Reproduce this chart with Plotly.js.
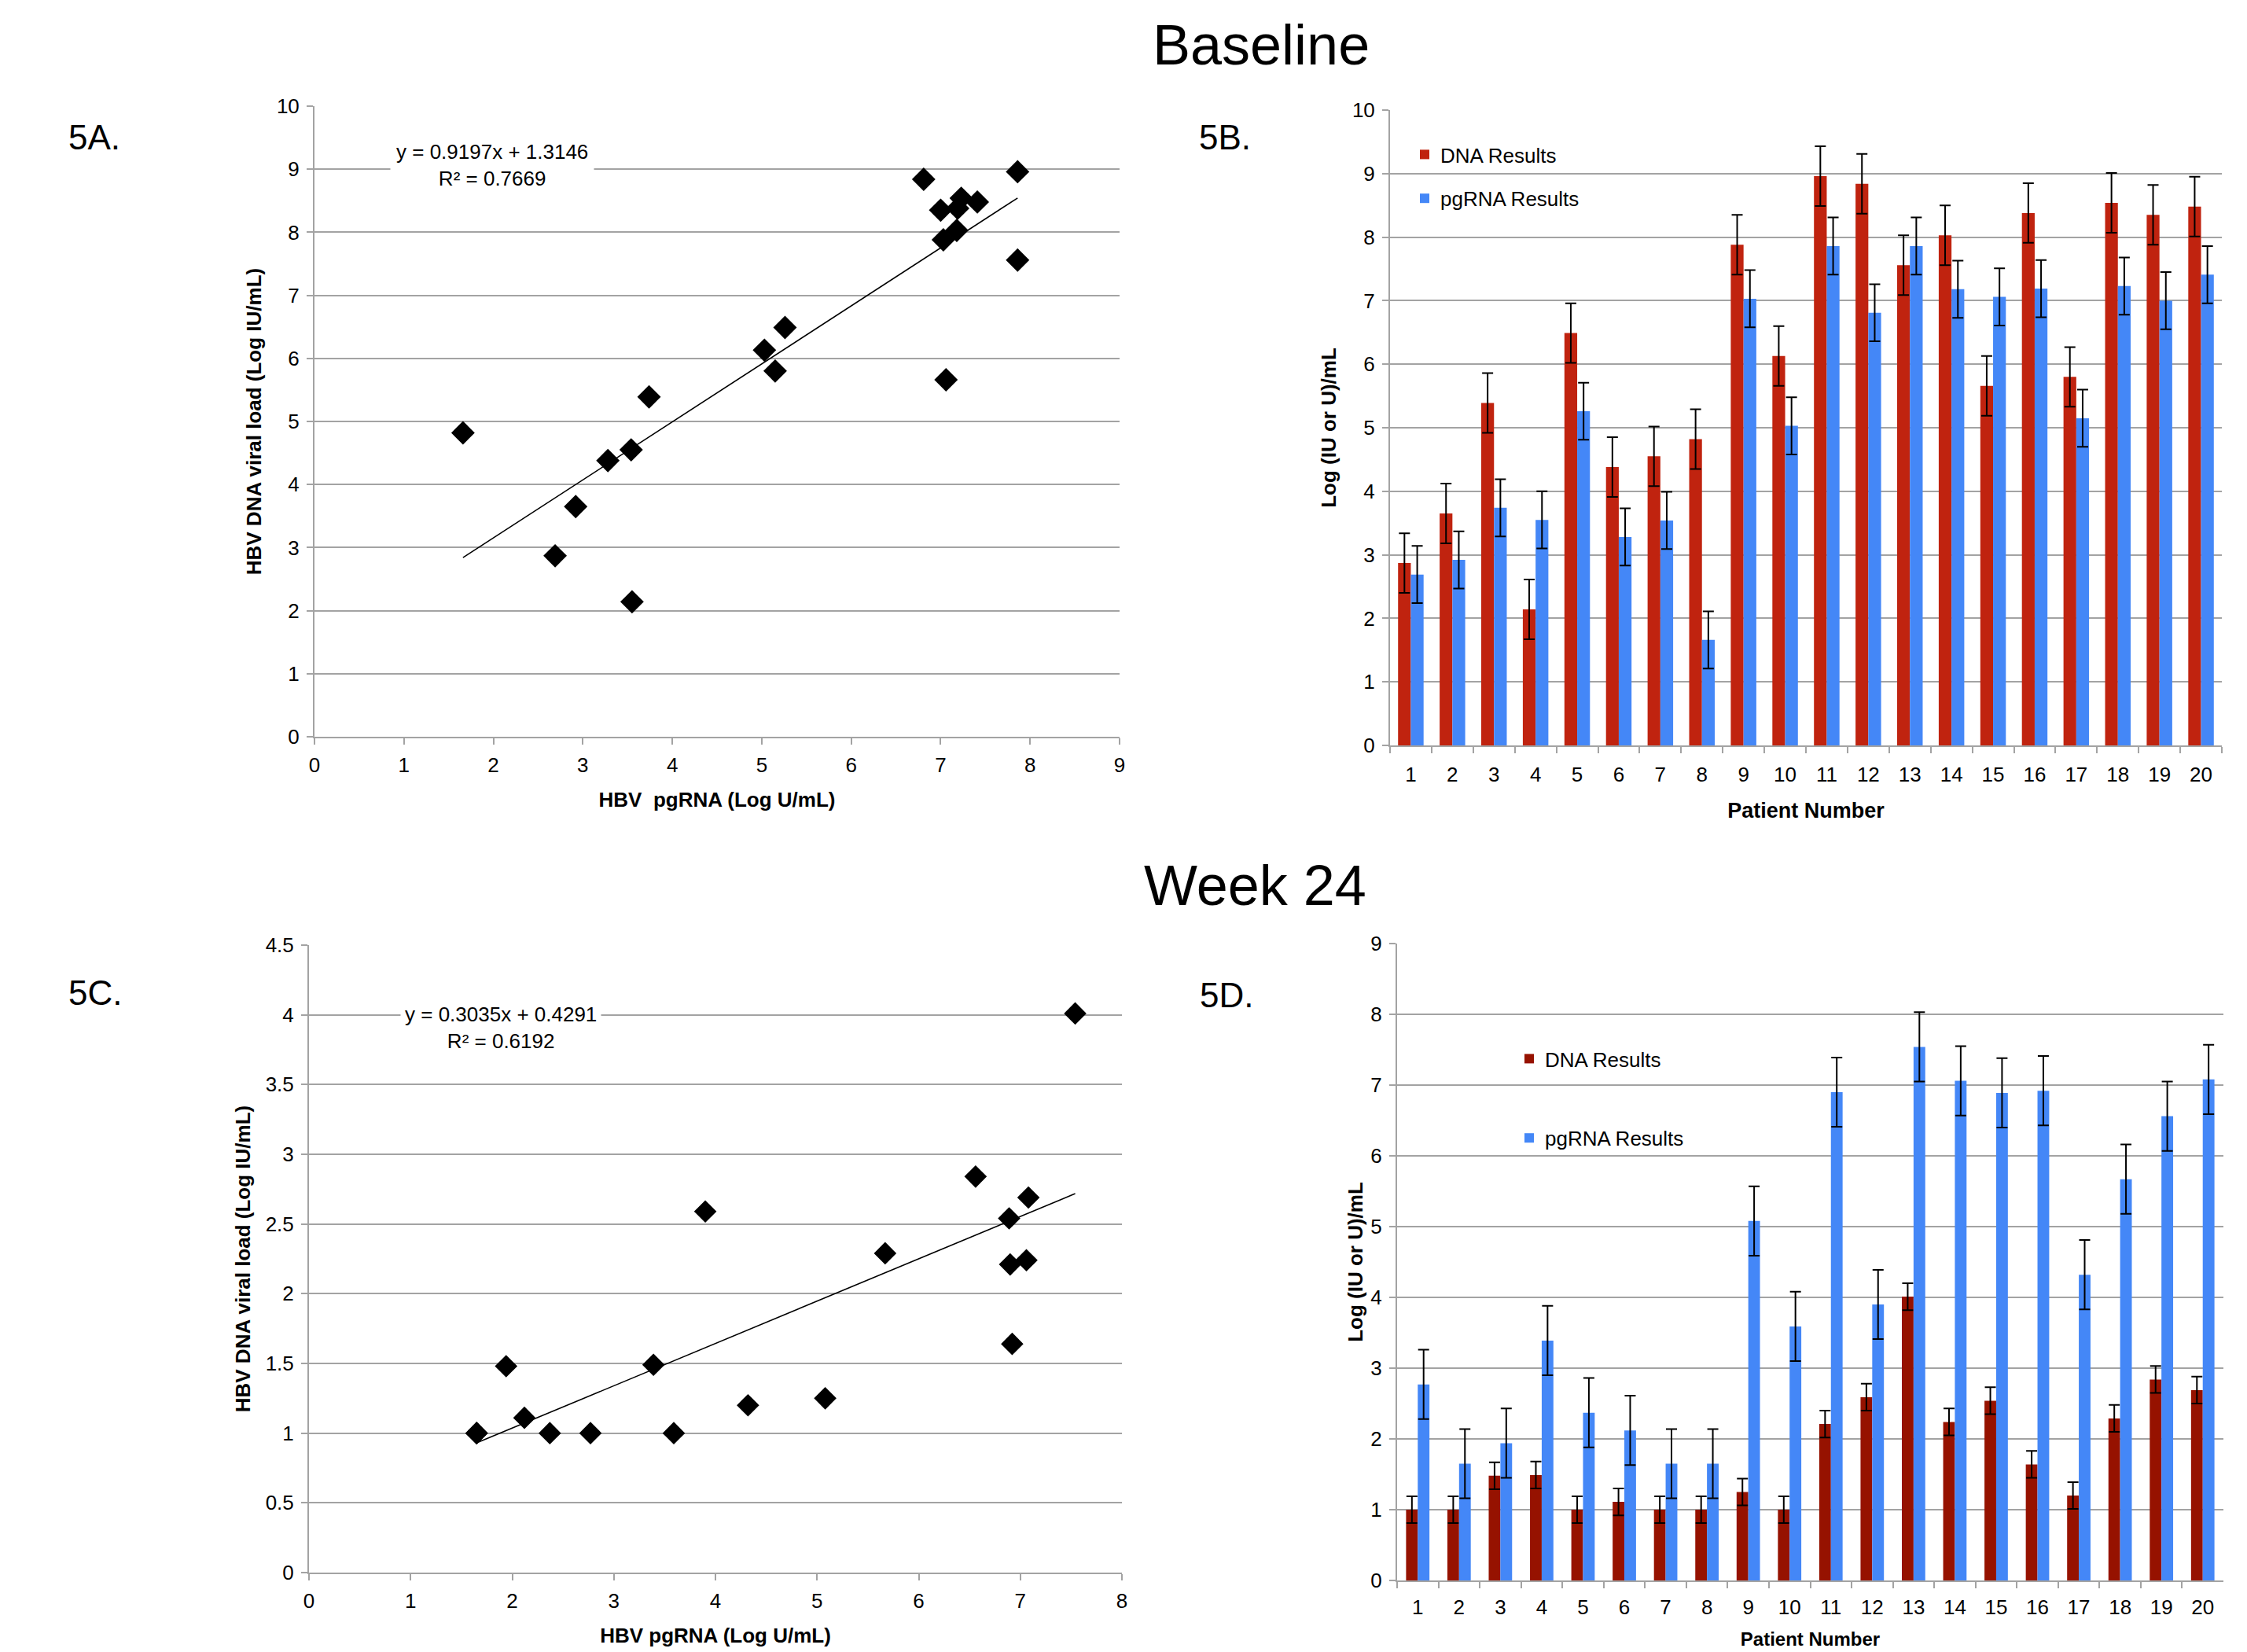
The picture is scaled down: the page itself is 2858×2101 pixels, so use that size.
<!DOCTYPE html>
<html>
<head>
<meta charset="utf-8">
<script src="https://cdn.plot.ly/plotly-3.0.1.min.js"></script>
<style>
html,body{margin:0;padding:0;background:#fff;}
#chart{width:2858px;height:2101px;}
</style>
</head>
<body>
<div id="chart"></div>
<script>
// ---------------- data ----------------
const patients = ["1","2","3","4","5","6","7","8","9","10","11","12","13","14","15","16","17","18","19","20"];

const baselineDNA = [2.87,3.65,5.39,2.14,6.49,4.38,4.55,4.82,7.88,6.13,8.96,8.84,7.56,8.03,5.66,8.38,5.80,8.54,8.35,8.48];
const baselineRNA = [2.69,2.92,3.74,3.55,5.26,3.28,3.54,1.66,7.03,5.03,7.86,6.81,7.86,7.18,7.06,7.19,5.15,7.23,7.00,7.41];
const baselineDNAErr = [0.47,0.47,0.47,0.47,0.47,0.47,0.47,0.47,0.47,0.47,0.47,0.47,0.47,0.47,0.47,0.47,0.47,0.47,0.47,0.47];
const baselineRNAErr = [0.45,0.45,0.45,0.45,0.45,0.45,0.45,0.45,0.45,0.45,0.45,0.45,0.45,0.45,0.45,0.45,0.45,0.45,0.45,0.45];

const week24DNA = [1.00,1.00,1.48,1.49,1.00,1.11,1.00,1.00,1.25,1.00,2.21,2.59,4.01,2.24,2.54,1.64,1.20,2.29,2.84,2.69];
const week24RNA = [2.77,1.65,1.94,3.39,2.37,2.12,1.65,1.65,5.08,3.59,6.90,3.90,7.54,7.06,6.89,6.92,4.32,5.67,6.56,7.08];
const week24DNAErr = [0.19,0.19,0.19,0.19,0.19,0.19,0.19,0.19,0.19,0.19,0.19,0.19,0.19,0.19,0.19,0.19,0.19,0.19,0.19,0.19];
const week24RNAErr = [0.49,0.49,0.49,0.49,0.49,0.49,0.49,0.49,0.49,0.49,0.49,0.49,0.49,0.49,0.49,0.49,0.49,0.49,0.49,0.49];

// trendline coefficients as printed on the chart
const baselineSlope = 0.9197, baselineIntercept = 1.3146, baselineR2 = "0.7669";
const week24Slope = 0.3035, week24Intercept = 0.4291, week24R2 = "0.6192";

const legendNames = ["DNA Results", "pgRNA Results"];

// ---------------- style ----------------
const FONT = "Liberation Sans, Arial, Helvetica, sans-serif";
const GRID = "#A3A3A3";
const RED_B = "#C0230F";
const RED_W = "#961200";
const BLUE = "#4487F7";

function fitLine(xs, m, b) {
  const lo = Math.min.apply(null, xs), hi = Math.max.apply(null, xs);
  return {x: [lo, hi], y: [m * lo + b, m * hi + b]};
}
const fitB = fitLine(baselineRNA, baselineSlope, baselineIntercept);
const fitW = fitLine(week24RNA, week24Slope, week24Intercept);

const errStyle = {type: "data", visible: true, color: "#000", thickness: 2, width: 7};

const traces = [
  // 5A scatter
  {type: "scatter", mode: "markers", x: baselineRNA, y: baselineDNA, xaxis: "x", yaxis: "y",
   marker: {symbol: "diamond", size: 23, color: "#000"}, showlegend: false, hoverinfo: "x+y"},
  {type: "scatter", mode: "lines", x: fitB.x, y: fitB.y, xaxis: "x", yaxis: "y",
   line: {color: "#000", width: 1.6}, showlegend: false, hoverinfo: "skip"},
  // 5B bars
  {type: "bar", name: legendNames[0], x: patients, y: baselineDNA, xaxis: "x2", yaxis: "y2",
   marker: {color: RED_B}, width: 0.307, offset: -0.307,
   error_y: Object.assign({array: baselineDNAErr}, errStyle), legend: "legend", legendgroup: "bd"},
  {type: "bar", name: legendNames[1], x: patients, y: baselineRNA, xaxis: "x2", yaxis: "y2",
   marker: {color: BLUE}, width: 0.307, offset: 0,
   error_y: Object.assign({array: baselineRNAErr}, errStyle), legend: "legend", legendgroup: "br"},
  // 5C scatter
  {type: "scatter", mode: "markers", x: week24RNA, y: week24DNA, xaxis: "x3", yaxis: "y3",
   marker: {symbol: "diamond", size: 22, color: "#000"}, showlegend: false, hoverinfo: "x+y"},
  {type: "scatter", mode: "lines", x: fitW.x, y: fitW.y, xaxis: "x3", yaxis: "y3",
   line: {color: "#000", width: 1.6}, showlegend: false, hoverinfo: "skip"},
  // 5D bars
  {type: "bar", name: legendNames[0], x: patients, y: week24DNA, xaxis: "x4", yaxis: "y4",
   marker: {color: RED_W}, width: 0.283, offset: -0.283,
   error_y: Object.assign({array: week24DNAErr}, errStyle), legend: "legend2", legendgroup: "wd"},
  {type: "bar", name: legendNames[1], x: patients, y: week24RNA, xaxis: "x4", yaxis: "y4",
   marker: {color: BLUE}, width: 0.283, offset: 0,
   error_y: Object.assign({array: week24RNAErr}, errStyle), legend: "legend2", legendgroup: "wr"}
];

function ax(extra) {
  return Object.assign({
    showline: true, linecolor: GRID, linewidth: 2,
    ticks: "outside", ticklen: 8, tickwidth: 2, tickcolor: GRID,
    tickfont: {family: FONT, size: 26, color: "#000"},
    zeroline: false, fixedrange: true, showgrid: false
  }, extra);
}
function ttl(text, size, standoff) {
  const t = {text: text, font: {family: FONT, size: size, color: "#000", weight: 700}};
  if (standoff !== undefined) t.standoff = standoff;
  return t;
}
const yGrid = {showgrid: true, gridcolor: GRID, gridwidth: 2};

const W = 2858, H = 2101;
const px = v => v / W;
const py = v => 1 - v / H;

function ann(text, x, y, size, extra) {
  return Object.assign({text: text, xref: "paper", yref: "paper", x: px(x), y: py(y),
    xanchor: "center", yanchor: "middle", showarrow: false,
    font: {family: FONT, size: size, color: "#000"}}, extra || {});
}

const layout = {
  width: W, height: H,
  margin: {l: 0, r: 0, t: 0, b: 0, pad: 0},
  paper_bgcolor: "#fff", plot_bgcolor: "rgba(0,0,0,0)",
  barmode: "group",
  showlegend: true,
  font: {family: FONT, color: "#000"},

  xaxis: ax({domain: [px(400), px(1424)], anchor: "y", range: [0, 9], dtick: 1, ticklabelstandoff: 4,
             title: ttl("HBV\u00a0 pgRNA (Log U/mL)", 26)}),
  yaxis: ax(Object.assign({domain: [py(937), py(135)], anchor: "x", range: [0, 10], dtick: 1, ticklabelstandoff: 4,
             title: ttl("HBV DNA viral load (Log IU/mL)", 26, 12)}, yGrid)),

  xaxis2: ax({domain: [px(1768), px(2826)], anchor: "y2", type: "category", range: [-0.5, 19.5],
              tickson: "boundaries", ticklabelstandoff: 13, title: ttl("Patient Number", 27)}),
  yaxis2: ax(Object.assign({domain: [py(948), py(140)], anchor: "x2", range: [0, 10], dtick: 1, ticklabelstandoff: 4,
              title: ttl("Log (IU or U)/mL", 26, 13)}, yGrid)),

  xaxis3: ax({domain: [px(393), px(1427)], anchor: "y3", range: [0, 8], dtick: 1, ticklabelstandoff: 4,
              title: ttl("HBV pgRNA (Log U/mL)", 26)}),
  yaxis3: ax(Object.assign({domain: [py(2000), py(1202)], anchor: "x3", range: [0, 4.5], dtick: 0.5, ticklabelstandoff: 4,
              title: ttl("HBV DNA viral load (Log IU/mL)", 26, 12)}, yGrid)),

  xaxis4: ax({domain: [px(1777), px(2828)], anchor: "y4", type: "category", range: [-0.5, 19.5],
              tickson: "boundaries", ticklabelstandoff: 10, title: ttl("Patient Number", 24)}),
  yaxis4: ax(Object.assign({domain: [py(2010), py(1200)], anchor: "x4", range: [0, 9], dtick: 1, ticklabelstandoff: 4,
              title: ttl("Log (IU or U)/mL", 26, 2)}, yGrid)),

  legend: {x: px(1792), y: py(173), xanchor: "left", yanchor: "top", bgcolor: "rgba(0,0,0,0)",
           font: {family: FONT, size: 26, color: "#000"}, tracegroupgap: 19, itemclick: false},
  legend2: {x: px(1925), y: py(1323), xanchor: "left", yanchor: "top", bgcolor: "rgba(0,0,0,0)",
            font: {family: FONT, size: 26, color: "#000"}, tracegroupgap: 64, itemclick: false},

  shapes: [
    {type: "rect", xref: "paper", yref: "paper", x0: px(1770), x1: px(2045), y0: py(280), y1: py(160),
     fillcolor: "#fff", line: {width: 0}, layer: "between"},
    {type: "rect", xref: "paper", yref: "paper", x0: px(1895), x1: px(2186), y0: py(1490), y1: py(1310),
     fillcolor: "#fff", line: {width: 0}, layer: "between"}
  ],

  annotations: [
    ann("Baseline", 1604, 57, 72),
    ann("Week 24", 1596, 1126, 72),
    ann("5A.", 120, 174, 44),
    ann("5B.", 1558, 174, 44),
    ann("5C.", 121, 1262, 44),
    ann("5D.", 1560, 1265, 44),
    ann("y = " + baselineSlope + "x + " + baselineIntercept + "<br>R² = " + baselineR2, 626, 210, 26,
        {bgcolor: "#fff", borderpad: 7}),
    ann("y = " + week24Slope + "x + " + week24Intercept + "<br>R² = " + week24R2, 637, 1307, 26,
        {bgcolor: "#fff", borderpad: 5})
  ]
};

Plotly.newPlot("chart", traces, layout, {staticPlot: true, displayModeBar: false});
</script>
</body>
</html>
